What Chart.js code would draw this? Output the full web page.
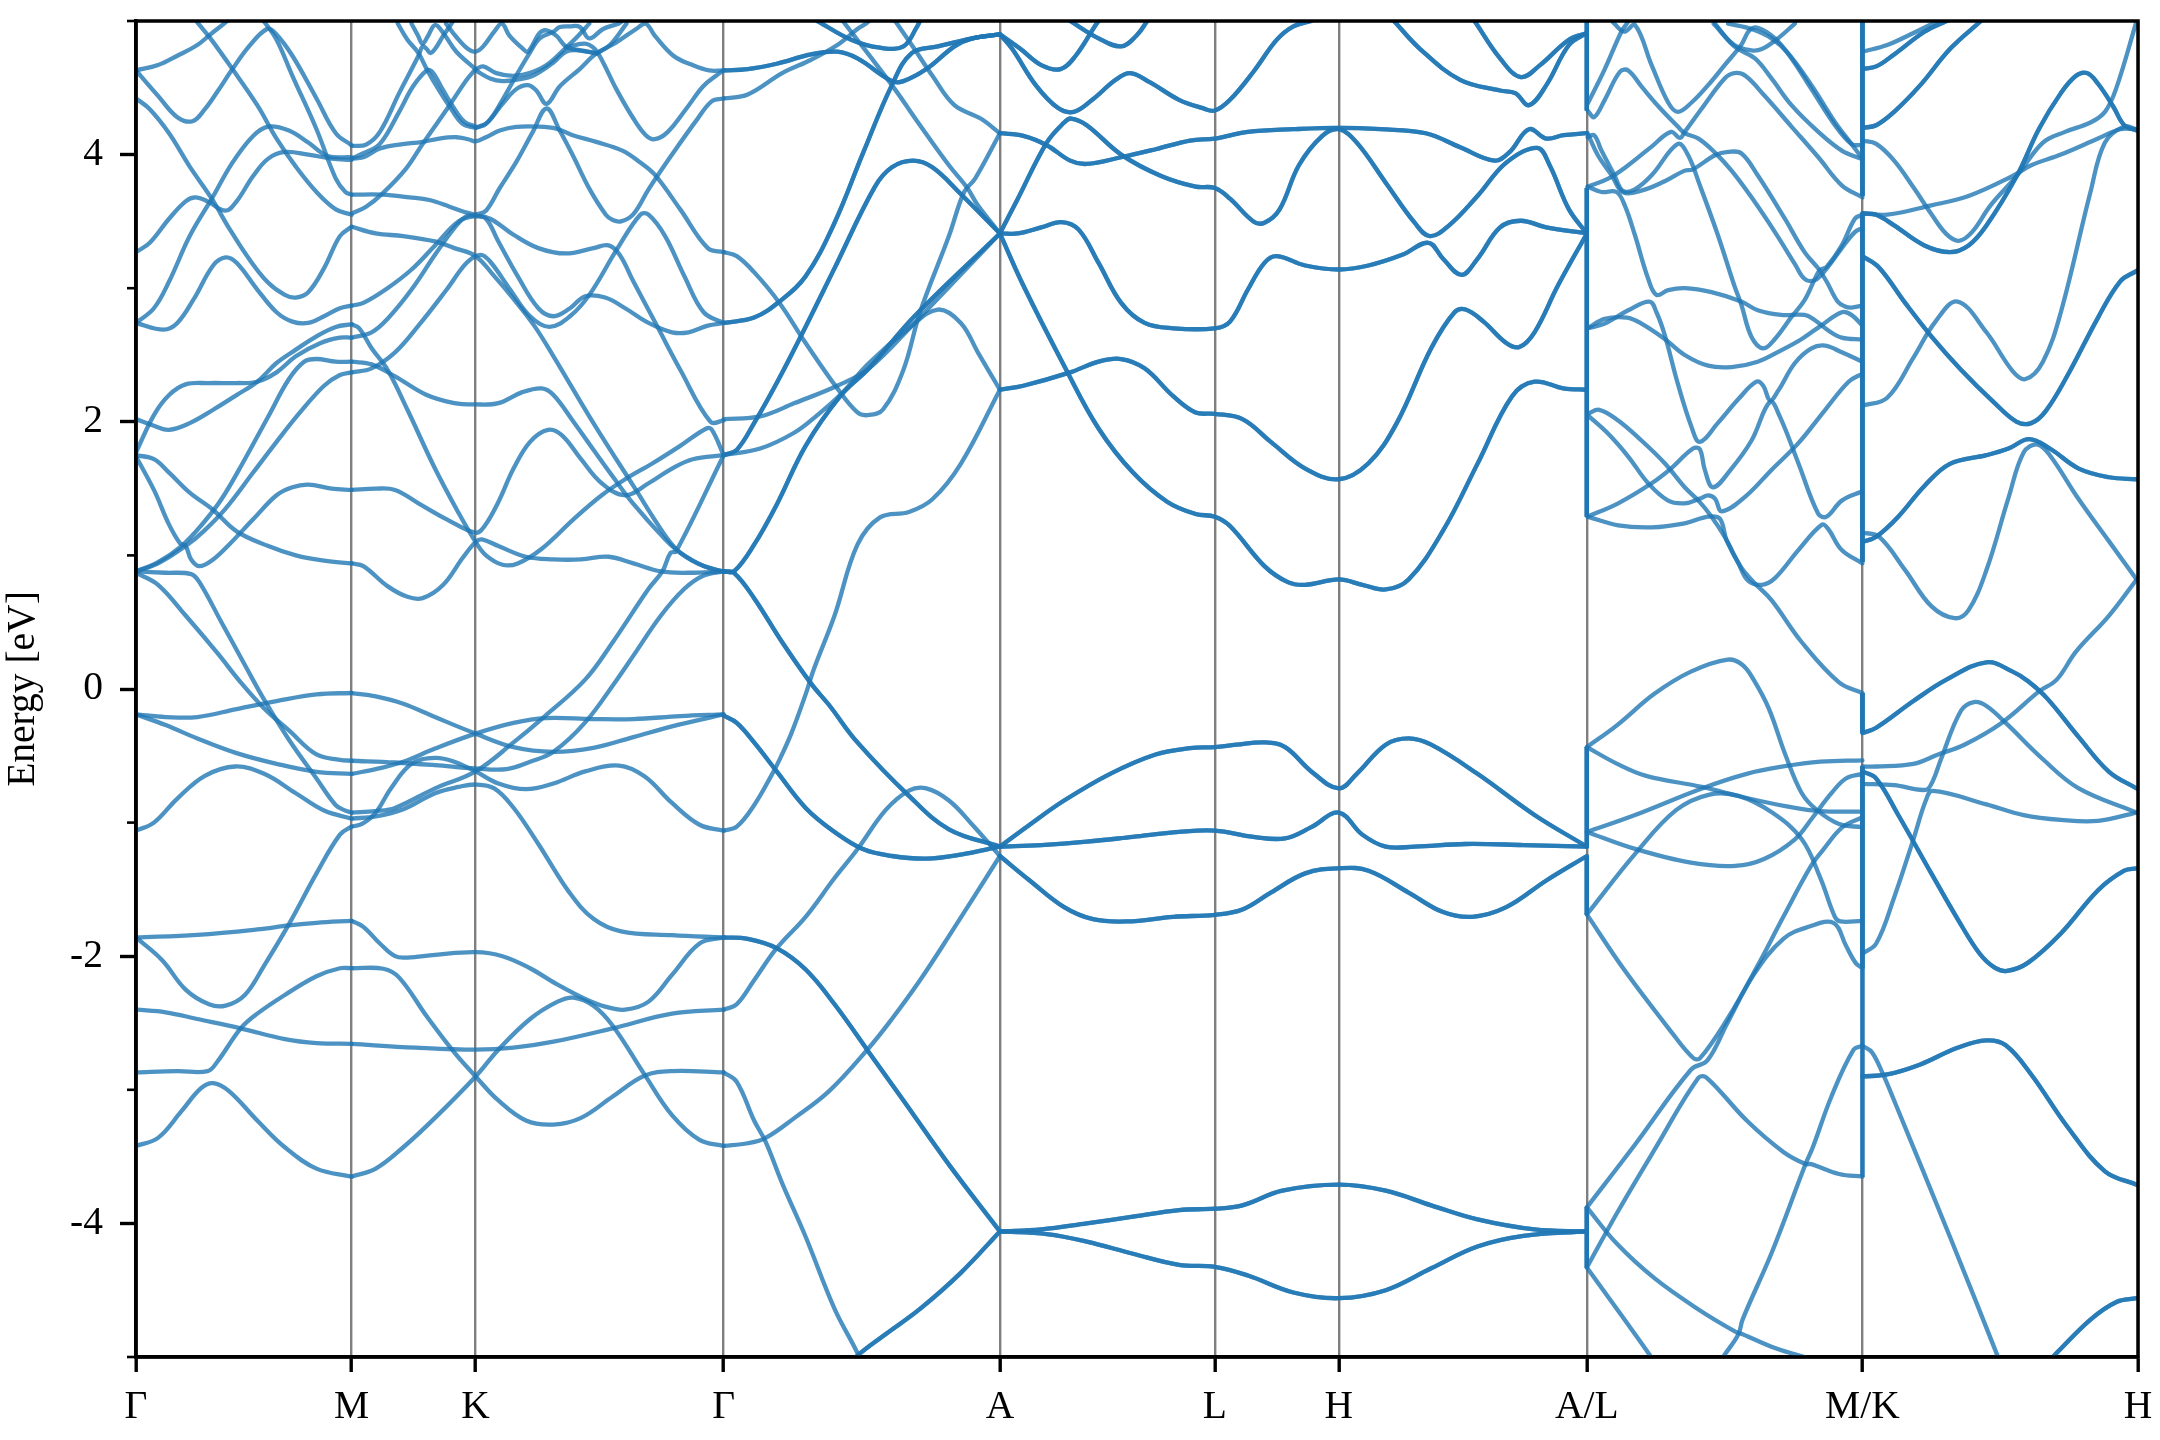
<!DOCTYPE html>
<html>
<head>
<meta charset="utf-8">
<title>Band structure</title>
<script src="https://cdn.jsdelivr.net/npm/chart.js@4"></script>
<style>
  html, body { margin: 0; padding: 0; background: #fff; }
  canvas { display: block; }
</style>
</head>
<body>
<canvas id="bandas" width="2160" height="1440"></canvas>
<script>
const tickPositions = [0, 1.565, 2.465, 4.265, 6.27, 7.83, 8.73, 10.53, 12.53, 14.53];
const tickLabels = ["Γ", "M", "K", "Γ", "A", "L", "H", "A/L", "M/K", "H"];
const energyTicks = [-4, -2, 0, 2, 4];
const minorEnergyTicks = [-5, -3, -1, 1, 3, 5];

// cada banda: x, E, x, E ...
const gammaM = [
  [0,4.63,.16,4.67,.3,4.74,.445,4.82,.54,4.9,.65,4.99,.7,5.04],
  [0,4.63,.16,4.44,.3,4.28,.41,4.25,.5,4.34,.59,4.47,.7,4.64,.82,4.81,.95,4.94,1.01,4.91,1.135,4.74,1.31,4.42,1.45,4.16,1.565,4.07],
  [.445,4.99,.54,4.87,.7,4.64,.88,4.37,1.02,4.12,1.16,3.91,1.31,3.72,1.45,3.59,1.565,3.55],
  [.92,5.01,1.02,4.86,1.135,4.59,1.31,4.19,1.45,3.82,1.52,3.72,1.565,3.7],
  [0,4.42,.1,4.34,.24,4.16,.39,3.91,.55,3.67,.675,3.45,.82,3.22,.96,3.04,1.08,2.95,1.16,2.93,1.25,2.97,1.365,3.15,1.48,3.39,1.565,3.46],
  [0,3.27,.1,3.34,.24,3.52,.36,3.65,.43,3.68,.52,3.65,.65,3.58,.73,3.65,.85,3.84,.96,3.97,1.08,4.02,1.25,4,1.42,3.97,1.565,3.96],
  [0,2.74,.13,2.85,.24,3.05,.39,3.39,.55,3.67,.7,3.94,.85,4.14,.96,4.21,1.11,4.18,1.25,4.09,1.39,3.99,1.565,3.98],
  [0,2.74,.2,2.69,.3,2.74,.42,2.92,.56,3.17,.65,3.23,.73,3.19,.88,2.99,1.02,2.82,1.135,2.75,1.25,2.74,1.365,2.79,1.48,2.85,1.565,2.87],
  [0,1.77,.13,2.05,.24,2.2,.36,2.28,.53,2.29,.73,2.29,.88,2.3,1.02,2.37,1.16,2.49,1.34,2.59,1.48,2.63,1.565,2.63],
  [0,2.02,.13,1.97,.24,1.94,.39,1.99,.56,2.09,.73,2.2,.88,2.3,1.02,2.44,1.16,2.54,1.31,2.64,1.45,2.71,1.565,2.73],
  [0,1.75,.13,1.72,.24,1.62,.39,1.47,.56,1.34,.73,1.18,.96,1.07,1.16,1,1.365,.96,1.565,.94],
  [0,1.74,.13,1.49,.24,1.23,.32,1.09,.36,1.07,.4,.97,.46,.92,.56,.97,.675,1.08,.85,1.27,1.02,1.45,1.135,1.51,1.25,1.53,1.42,1.5,1.565,1.49],
  [0,.88,.16,.95,.33,1.07,.47,1.22,.62,1.42,.79,1.72,.96,2.04,1.11,2.32,1.22,2.45,1.31,2.47,1.45,2.45,1.565,2.45],
  [0,.88,.16,.94,.36,1.07,.49,1.18,.65,1.35,.85,1.62,1.02,1.85,1.19,2.07,1.365,2.27,1.48,2.35,1.565,2.37],
  [0,.88,.215,.87,.4,.86,.46,.8,.62,.5,.79,.18,.93,-.08,1.11,-.38,1.31,-.67,1.45,-.87,1.52,-.91,1.565,-.925],
  [0,.87,.16,.78,.36,.55,.59,.27,.76,.05,.93,-.145,1.11,-.31,1.31,-.49,1.48,-.53,1.565,-.537],
  [0,-.19,.215,-.21,.445,-.21,.73,-.15,1.02,-.09,1.31,-.04,1.565,-.03],
  [0,-.19,.215,-.27,.445,-.37,.73,-.48,1.02,-.56,1.31,-.62,1.565,-.635],
  [0,-1.06,.13,-1,.3,-.82,.5,-.65,.72,-.58,.93,-.635,1.16,-.78,1.365,-.91,1.565,-.97],
  [0,-1.86,.445,-1.84,.88,-1.8,1.11,-1.77,1.31,-1.75,1.565,-1.735],
  [0,-1.86,.19,-2.03,.36,-2.25,.53,-2.36,.65,-2.37,.79,-2.29,.93,-2.07,1.11,-1.76,1.31,-1.38,1.48,-1.09,1.565,-1.03],
  [0,-2.4,.215,-2.42,.445,-2.47,.76,-2.54,1.08,-2.62,1.31,-2.65,1.565,-2.656],
  [0,-2.87,.3,-2.86,.52,-2.86,.59,-2.79,.76,-2.54,.88,-2.43,1.08,-2.29,1.31,-2.15,1.48,-2.09,1.565,-2.09],
  [0,-3.42,.16,-3.36,.33,-3.16,.47,-2.99,.56,-2.95,.675,-3.01,.88,-3.23,1.08,-3.43,1.31,-3.59,1.565,-3.65],
];

const mKGamma = [
  [1.565,4.065,1.67,4.075,1.77,4.17,1.91,4.46,2.05,4.74,2.08,4.81,2.11,4.79,2.136,4.76,2.17,4.79,2.23,4.89,2.29,4.98,2.31,5.02],
  [1.565,3.97,1.65,4.01,1.77,4.08,1.91,4.32,2.01,4.51,2.11,4.63,2.15,4.62,2.23,4.48,2.3,4.36,2.385,4.245,2.465,4.21],
  [1.9,4.98,1.97,4.86,2.05,4.76,2.11,4.64,2.2,4.48,2.276,4.36,2.37,4.23,2.465,4.2],
  [2,4.98,2.047,4.89,2.08,4.83,2.12,4.89,2.17,4.97,2.23,4.91,2.325,4.77,2.465,4.64],
  [2.25,4.98,2.325,4.88,2.41,4.79,2.465,4.77,2.52,4.81,2.6,4.92,2.656,4.98,2.71,4.89,2.81,4.79,2.845,4.77,2.93,4.91,2.98,4.93,3.05,4.89,3.12,4.81,3.22,4.78,3.35,4.76],
  [1.565,3.97,1.65,3.98,1.77,4.045,1.91,4.075,2.08,4.095,2.2,4.12,2.325,4.13,2.41,4.115,2.465,4.1,2.54,4.13,2.64,4.18,2.76,4.207,2.905,4.21,3.05,4.195,3.17,4.145,3.34,4.095,3.53,4.03,3.655,3.945,3.765,3.85,3.95,3.59,4.15,3.3,4.265,3.27],
  [1.565,3.56,1.67,3.61,1.79,3.71,1.96,3.895,2.08,4.08,2.276,4.37,2.4,4.56,2.465,4.64],
  [1.565,3.7,1.79,3.7,1.986,3.68,2.13,3.66,2.276,3.61,2.385,3.57,2.465,3.55],
  [2.465,4.64,2.52,4.66,2.615,4.61,2.736,4.59,2.857,4.61,2.98,4.67,3.12,4.8,3.21,4.89,3.29,4.98],
  [2.465,4.63,2.57,4.57,2.66,4.55,2.76,4.56,2.88,4.59,3.03,4.69,3.12,4.77,3.22,4.78,3.34,4.756],
  [2.465,4.2,2.555,4.245,2.66,4.41,2.77,4.61,2.857,4.76,2.93,4.87,3.03,4.92,3.075,4.955,3.147,4.96,3.22,4.956,3.29,4.87,3.39,4.94,3.5,4.98,3.53,5],
  [2.465,4.2,2.54,4.23,2.66,4.38,2.76,4.49,2.845,4.52,2.905,4.48,2.98,4.38,3.075,4.51,3.22,4.64,3.34,4.756,3.486,4.84,3.63,4.94,3.7,4.98,3.765,4.89,3.9,4.74,4.04,4.67,4.16,4.63,4.265,4.63],
  [3.12,4.8,3.255,4.83,3.33,4.79,3.39,4.69,3.486,4.49,3.61,4.27,3.7,4.145,3.765,4.115,3.86,4.17,3.995,4.345,4.115,4.51,4.21,4.59,4.265,4.63],
  [3.35,4.76,3.44,4.82,3.56,4.98],
  [2.465,3.55,2.54,3.58,2.64,3.75,2.76,3.945,2.88,4.17,2.98,4.345,3.075,4.18,3.17,3.995,3.29,3.745,3.41,3.55,3.46,3.51,3.52,3.5,3.61,3.555,3.72,3.74,3.89,4,4.07,4.26,4.18,4.4,4.265,4.42],
  [1.565,3.46,1.74,3.41,1.94,3.39,2.17,3.35,2.31,3.3,2.465,3.24,2.6,3.09,2.74,2.92,2.89,2.72,3.03,2.49,3.32,1.99,3.61,1.52,3.84,1.15,3.95,1.02,4.12,.92,4.265,.88],
  [1.565,2.87,1.65,2.89,1.825,3,2,3.14,2.17,3.32,2.34,3.5,2.465,3.54,2.57,3.52,2.74,3.4,2.92,3.3,3.12,3.26,3.32,3.3,3.43,3.32,3.51,3.25,3.61,3.05,3.78,2.72,3.95,2.39,4.17,2,4.265,2.01],
  [1.565,2.63,1.71,2.67,1.825,2.77,2,2.99,2.17,3.25,2.31,3.45,2.4,3.54,2.465,3.54,2.54,3.52,2.63,3.35,2.77,3.09,2.92,2.85,3.03,2.79,3.15,2.85,3.26,2.94,3.405,2.93,3.55,2.85,3.72,2.74,3.89,2.67,4.01,2.67,4.15,2.72,4.265,2.74],
  [1.565,2.37,1.71,2.4,1.88,2.52,2.05,2.72,2.255,2.99,2.4,3.19,2.5,3.25,2.57,3.2,2.715,2.99,2.86,2.79,3,2.71,3.15,2.79,3.29,2.95,3.49,3.29,3.66,3.55,3.72,3.55,3.84,3.39,3.98,3.09,4.12,2.82,4.265,2.74],
  [1.565,2.73,1.62,2.7,1.71,2.55,1.825,2.39,1.97,2.09,2.17,1.65,2.34,1.32,2.465,1.1,2.54,1,2.66,.93,2.77,.94,2.945,1.05,3.175,1.27,3.38,1.45,3.55,1.57,3.75,1.69,3.95,1.82,4.14,1.95,4.18,1.94,4.265,1.75],
  [1.565,2.45,1.71,2.43,1.88,2.34,2.11,2.2,2.31,2.14,2.465,2.13,2.63,2.14,2.8,2.22,2.945,2.25,3.03,2.2,3.175,2,3.32,1.79,3.46,1.59,3.61,1.385,3.84,1.12,3.95,1.02,4.12,.92,4.265,.88],
  [1.565,1.49,1.74,1.5,1.88,1.49,2.05,1.39,2.255,1.27,2.465,1.17,2.53,1.22,2.63,1.4,2.74,1.65,2.86,1.85,2.99,1.94,3.09,1.9,3.23,1.72,3.38,1.54,3.55,1.45,3.72,1.54,3.89,1.65,4.04,1.72,4.265,1.75],
  [1.565,.94,1.65,.92,1.825,.77,1.97,.69,2.08,.68,2.23,.78,2.37,.98,2.465,1.1,2.51,1.12,2.63,1.07,2.83,.99,3.03,.97,3.23,.97,3.43,.99,3.61,.94,3.81,.88,4.01,.87,4.265,.88],
  [1.565,-.925,1.74,-.914,1.88,-.89,2.17,-.744,2.465,-.617,2.74,-.4,2.96,-.21,3.26,.07,3.46,.35,3.72,.75,3.82,.88,3.88,1.02,3.92,1.03,4.265,1.75],
  [1.565,-.537,1.88,-.55,2.17,-.57,2.465,-.595,2.69,-.6,2.86,-.545,3.03,-.47,3.26,-.25,3.49,.07,3.61,.25,3.81,.55,3.98,.75,4.12,.85,4.265,.88],
  [1.565,-.635,1.74,-.6,1.94,-.545,2.17,-.446,2.465,-.334,2.74,-.254,2.97,-.218,3.32,-.225,3.61,-.225,3.95,-.203,4.265,-.19],
  [1.565,-.03,1.74,-.055,1.94,-.11,2.17,-.21,2.465,-.334,2.74,-.435,3.03,-.47,3.32,-.44,3.61,-.36,3.89,-.28,4.265,-.19],
  [1.565,-1.03,1.64,-1.01,1.74,-.925,1.85,-.744,2,-.56,2.17,-.515,2.31,-.544,2.465,-.617,2.63,-.707,2.83,-.75,3.03,-.707,3.26,-.617,3.505,-.573,3.69,-.653,3.89,-.853,4.09,-1.016,4.265,-1.06],
  [1.565,-.97,1.74,-.954,1.94,-.9,2.17,-.78,2.34,-.733,2.465,-.715,2.6,-.744,2.74,-.889,2.92,-1.16,3.146,-1.524,3.32,-1.72,3.52,-1.814,3.89,-1.843,4.265,-1.86],
  [1.565,-1.735,1.65,-1.78,1.77,-1.905,1.88,-2,1.97,-2.01,2.17,-1.99,2.465,-1.97,2.66,-2,2.86,-2.09,3.03,-2.195,3.26,-2.32,3.405,-2.377,3.55,-2.4,3.72,-2.34,3.89,-2.14,4.09,-1.905,4.265,-1.86],
  [1.565,-2.09,1.795,-2.094,1.91,-2.16,2.11,-2.45,2.31,-2.72,2.465,-2.9,2.63,-3.08,2.83,-3.23,3.03,-3.26,3.23,-3.21,3.46,-3.05,3.69,-2.895,3.89,-2.86,4.265,-2.87],
  [1.565,-2.656,2.03,-2.685,2.465,-2.7,2.74,-2.685,3.03,-2.64,3.46,-2.54,3.89,-2.43,4.265,-2.4],
  [1.565,-3.65,1.74,-3.59,1.94,-3.43,2.17,-3.21,2.465,-2.9,2.63,-2.7,2.86,-2.47,3.06,-2.34,3.175,-2.31,3.32,-2.37,3.46,-2.52,3.69,-2.885,3.89,-3.19,4.09,-3.375,4.265,-3.42],
];

const gammaALight = [
  [4.265,4.42,4.44,4.45,4.69,4.61,4.9,4.71,5.09,4.82,5.236,4.94,5.32,5,5.38,5.1],
  [5.51,5,5.65,4.79,5.78,4.59,5.94,4.37,6.13,4.27,6.27,4.16],
  [5.13,5,5.486,4.52,5.69,4.22,5.9,3.92,6.03,3.755,6.11,3.62,6.27,3.41],
  [4.265,-1.06,4.36,-1.03,4.486,-.87,4.61,-.65,4.67,-.53,4.757,-.33,4.86,-.04,4.92,.15,5.07,.55,5.236,1.08,5.4,1.285,5.61,1.325,5.78,1.42,5.986,1.685,6.27,2.24],
  [4.265,3.27,4.36,3.24,4.486,3.12,4.67,2.89,4.86,2.59,5.09,2.25,5.236,2.07,5.31,2.05,5.42,2.09,5.57,2.39,5.69,2.82,5.9,3.39,6.01,3.72,6.09,3.82,6.27,4.16],
  [4.265,2.02,4.53,2.04,4.78,2.14,5.09,2.27,5.32,2.4,5.65,2.74,6.27,3.41],
  [4.265,1.75,4.53,1.8,4.78,1.92,4.945,2.05,5.11,2.2,5.32,2.44,5.61,2.7,5.82,2.84,5.986,2.74,6.11,2.52,6.27,2.24],
  [4.265,-2.4,4.36,-2.36,4.486,-2.18,4.65,-1.94,4.86,-1.705,5.07,-1.415,5.236,-1.2,5.44,-.907,5.61,-.76,5.736,-.744,5.9,-.835,6.07,-1.016,6.27,-1.25],
  [4.265,-2.87,4.36,-2.94,4.486,-3.23,4.57,-3.39,4.69,-3.7,4.86,-4.1,5.07,-4.64,5.236,-4.97,5.26,-5.05],
  [4.265,-3.42,4.44,-3.4,4.57,-3.36,4.78,-3.21,5.03,-3.01,5.32,-2.685,5.486,-2.47,5.69,-2.18,5.9,-1.85,6.27,-1.25],
];

// estas aparecem mais escuras, banda dupla
const gammaADouble = [
  [4.265,2.74,4.486,2.78,4.67,2.9,4.86,3.09,5.07,3.49,5.28,4.02,5.486,4.52,5.63,4.76,5.82,4.81,6.07,4.87,6.27,4.9],
  [4.265,4.63,4.44,4.64,4.65,4.68,4.9,4.75,5.09,4.77,5.236,4.72,5.486,4.55,5.57,4.55,5.736,4.64,5.94,4.81,6.07,4.87,6.27,4.9],
  [4.265,1.75,4.36,1.79,4.486,1.99,4.65,2.29,4.84,2.67,5.07,3.15,5.36,3.755,5.486,3.905,5.64,3.955,5.78,3.905,5.986,3.705,6.27,3.41],
  [4.265,.88,4.34,.88,4.486,1.08,4.65,1.38,4.86,1.82,5.11,2.19,5.32,2.4,5.65,2.79,6.27,3.41],
  [4.265,.88,4.34,.87,4.486,.68,4.69,.35,4.9,.04,5.03,-.12,5.236,-.4,5.61,-.8,5.9,-1.05,6.27,-1.18],
  [4.945,5,5.19,4.86,5.4,4.8,5.57,4.81,5.67,4.96,5.69,5],
  [4.265,-.2,4.36,-.254,4.486,-.4,4.65,-.617,4.86,-.89,5.07,-1.07,5.28,-1.2,5.486,-1.25,5.736,-1.27,5.986,-1.24,6.27,-1.18],
  [4.265,-1.86,4.44,-1.87,4.65,-1.94,4.86,-2.1,5.07,-2.36,5.32,-2.72,5.57,-3.08,5.9,-3.56,6.27,-4.06],
  [5.2,-5.05,5.236,-4.99,5.44,-4.83,5.69,-4.64,5.986,-4.37,6.27,-4.06],
];

const aLHA = [
  [6.27,4.9,6.42,4.79,6.57,4.67,6.71,4.64,6.82,4.74,6.965,4.97,7,5.02],
  [6.78,5,6.986,4.87,7.15,4.81,7.26,4.89,7.34,5],
  [6.27,4.9,6.36,4.79,6.53,4.52,6.69,4.35,6.807,4.32,6.94,4.41,7.11,4.56,7.215,4.61,7.36,4.54,7.57,4.41,7.736,4.35,7.83,4.33,7.94,4.41,8.11,4.62,8.28,4.86,8.4,4.96,8.53,5],
  [9.13,5,9.32,4.79,9.61,4.56,9.9,4.48,10.01,4.46,10.11,4.37,10.236,4.52,10.4,4.82,10.53,4.91],
  [9.715,5,9.9,4.72,10.05,4.58,10.19,4.67,10.4,4.86,10.53,4.91],
  [6.27,4.16,6.44,4.14,6.61,4.07,6.78,3.955,6.9,3.93,7.15,3.98,7.4,4.04,7.65,4.105,7.83,4.12,8.07,4.17,8.4,4.19,8.73,4.2,9.03,4.19,9.36,4.16,9.61,4.055,9.86,3.955,9.97,4.02,10.11,4.19,10.236,4.12,10.36,4.145,10.53,4.16],
  [6.27,3.41,6.4,3.41,6.57,3.455,6.715,3.495,6.84,3.44,6.986,3.19,7.15,2.89,7.32,2.74,7.53,2.7,7.83,2.7,7.94,2.75,8.07,2.99,8.19,3.19,8.28,3.24,8.486,3.17,8.73,3.14,8.945,3.17,9.19,3.25,9.38,3.34,9.486,3.22,9.62,3.1,9.736,3.22,9.9,3.455,10.05,3.505,10.236,3.455,10.53,3.41],
  [6.27,3.41,6.4,3.67,6.61,4.09,6.736,4.24,6.786,4.27,6.9,4.22,7.15,4,7.44,3.84,7.69,3.76,7.83,3.75,7.94,3.67,8.11,3.5,8.19,3.49,8.3,3.59,8.44,3.92,8.61,4.14,8.73,4.19,8.86,4.09,9.07,3.79,9.28,3.49,9.39,3.39,9.53,3.47,9.736,3.69,9.945,3.94,10.17,4.05,10.26,3.92,10.4,3.59,10.53,3.41],
  [6.27,3.41,6.44,3.02,6.736,2.42,6.986,1.95,7.236,1.62,7.486,1.4,7.69,1.31,7.83,1.29,7.94,1.22,8.19,.92,8.36,.8,8.486,.78,8.73,.82,8.9,.78,9.07,.745,9.236,.82,9.486,1.185,9.736,1.685,9.986,2.19,10.15,2.3,10.36,2.25,10.53,2.24],
  [6.27,2.24,6.44,2.27,6.78,2.37,6.986,2.45,7.15,2.47,7.32,2.4,7.53,2.19,7.69,2.07,7.83,2.06,8.03,2.02,8.236,1.85,8.486,1.65,8.73,1.57,8.945,1.69,9.15,1.99,9.4,2.55,9.57,2.82,9.65,2.84,9.78,2.75,9.945,2.59,10.04,2.56,10.15,2.67,10.32,3.02,10.53,3.41],
  [6.27,-1.18,6.486,-1.016,6.736,-.835,7.07,-.635,7.4,-.49,7.65,-.443,7.83,-.435,7.986,-.417,8.19,-.4,8.34,-.435,8.53,-.617,8.73,-.744,8.86,-.635,9.07,-.417,9.236,-.37,9.4,-.417,9.736,-.635,10.15,-.943,10.53,-1.18],
  [6.27,-1.18,6.57,-1.168,6.9,-1.143,7.236,-1.107,7.57,-1.07,7.83,-1.06,8.11,-1.107,8.34,-1.118,8.53,-1.034,8.73,-.925,8.9,-1.09,9.07,-1.18,9.28,-1.18,9.65,-1.16,10.07,-1.168,10.53,-1.18],
  [6.27,-1.25,6.486,-1.433,6.736,-1.633,6.945,-1.723,7.19,-1.74,7.53,-1.705,7.83,-1.69,8.03,-1.65,8.236,-1.524,8.486,-1.38,8.73,-1.342,8.945,-1.36,9.236,-1.524,9.486,-1.67,9.7,-1.705,9.945,-1.633,10.236,-1.433,10.53,-1.25],
  [6.27,-4.06,6.57,-4.045,6.9,-4,7.236,-3.95,7.57,-3.9,7.83,-3.89,8.03,-3.865,8.32,-3.755,8.73,-3.71,9.07,-3.755,9.4,-3.865,9.736,-3.97,10.15,-4.045,10.53,-4.06],
  [6.27,-4.06,6.61,-4.08,6.9,-4.136,7.236,-4.227,7.57,-4.31,7.83,-4.325,8.07,-4.39,8.4,-4.517,8.73,-4.56,9.07,-4.5,9.4,-4.336,9.736,-4.173,10.07,-4.093,10.53,-4.06],
];

const lM = [
  [10.535,4.38,10.66,4.64,10.78,4.92,10.82,4.98,10.86,5.05],
  [10.535,4.33,10.583,4.28,10.66,4.41,10.77,4.62,10.83,4.63,10.926,4.51,11.05,4.36,11.19,4.21,11.24,4.16,11.34,4.12,11.46,4.015,11.58,3.88,11.725,3.68,11.895,3.42,12.04,3.18,12.11,3.07,12.185,3.06,12.28,3.16,12.38,3.3,12.475,3.42,12.53,3.45],
  [10.72,4.99,10.8,4.92,10.88,4.97,11,4.67,11.12,4.39,11.19,4.32,11.29,4.39,11.41,4.52,11.53,4.67,11.65,4.82,11.71,4.93,11.77,4.95,11.895,4.87,12.015,4.72,12.16,4.49,12.33,4.22,12.45,4.08,12.53,4.07],
  [10.535,3.76,10.685,3.82,10.83,3.92,11,4.06,11.14,4.17,11.205,4.125,11.24,4.17,11.36,4.34,11.53,4.57,11.6,4.61,11.68,4.59,11.82,4.44,12.015,4.21,12.21,3.98,12.38,3.77,12.53,3.68],
  [11.46,4.98,11.6,4.81,11.75,4.72,11.87,4.57,12.015,4.37,12.21,4.17,12.38,4.03,12.53,3.965],
  [11.555,4.98,11.725,4.94,11.87,4.87,11.99,4.76,12.16,4.52,12.33,4.245,12.45,4.08,12.53,3.97],
  [11.45,4.98,11.6,4.82,11.725,4.78,11.8,4.79,11.905,4.86,12.04,4.98],
  [10.535,4.13,10.583,4.145,10.636,4.03,10.73,3.845,10.79,3.73,10.878,3.74,11,3.845,11.19,4.08,11.265,3.995,11.35,3.77,11.48,3.4,11.6,3.02,11.65,2.88,11.725,2.635,11.81,2.55,11.895,2.62,12.015,2.785,12.11,2.91,12.185,3.07,12.22,3.135,12.27,3.16,12.38,3.32,12.475,3.52,12.53,3.55],
  [10.535,4.16,10.61,3.995,10.71,3.845,10.79,3.72,10.926,3.73,11.095,3.8,11.24,3.88,11.3,3.89,11.46,3.995,11.555,4.02,11.65,4.01,11.77,3.845,11.967,3.52,12.11,3.27,12.21,3.147,12.27,3.05,12.35,2.9,12.4,2.865,12.45,2.855,12.53,2.87],
  [10.535,3.76,10.636,3.72,10.745,3.72,10.805,3.62,10.878,3.4,10.975,3.07,11.035,2.95,11.12,2.985,11.24,3,11.435,2.97,11.65,2.9,11.77,2.835,11.94,2.8,12.11,2.8,12.185,2.76,12.28,2.685,12.38,2.63,12.53,2.615],
  [10.535,2.7,10.66,2.735,10.83,2.835,10.985,2.9,11.035,2.82,11.095,2.65,11.19,2.285,11.29,1.96,11.35,1.85,11.48,1.99,11.63,2.17,11.76,2.3,11.81,2.27,11.86,2.16,11.92,2.235,12.04,2.44,12.16,2.55,12.26,2.57,12.38,2.52,12.53,2.45],
  [10.535,2.7,10.66,2.77,10.82,2.78,10.926,2.735,11.095,2.62,11.24,2.5,11.41,2.42,11.58,2.41,11.77,2.45,11.94,2.535,12.09,2.62,12.23,2.72,12.38,2.82,12.45,2.8,12.53,2.72],
  [10.535,2.06,10.62,2.09,10.757,2.01,10.926,1.86,11.095,1.69,11.24,1.51,11.34,1.41,11.435,1.29,11.53,1.14,11.63,.94,11.7,.81,11.8,.78,11.895,.83,12.065,1.04,12.235,1.23,12.28,1.2,12.38,1.04,12.53,.94],
  [10.535,2.05,10.685,1.91,10.83,1.74,10.975,1.54,11.12,1.41,11.24,1.39,11.35,1.425,11.41,1.45,11.46,1.425,11.51,1.33,11.68,1.44,11.87,1.64,12.065,1.84,12.26,2.09,12.43,2.3,12.53,2.36],
  [10.535,1.29,10.757,1.39,11,1.54,11.14,1.65,11.3,1.8,11.35,1.795,11.386,1.64,11.446,1.51,11.58,1.65,11.725,1.86,11.86,2.15,11.93,2.04,12.065,1.69,12.21,1.31,12.27,1.29,12.38,1.41,12.53,1.48],
  [10.535,1.29,10.757,1.225,11,1.21,11.24,1.24,11.41,1.29,11.495,1.275,11.545,1.11,11.65,.91,11.75,.79,11.87,.665,12.09,.35,12.36,.05,12.53,-.03],
  [10.53,-.435,10.75,-.27,11.02,-.036,11.285,.13,11.553,.22,11.66,.18,11.74,.07,11.85,-.145,11.97,-.49,12.09,-.78,12.2,-.907,12.36,-1.01,12.53,-1.035],
  [10.53,-.435,10.75,-.56,10.96,-.65,11.365,-.733,11.69,-.816,11.98,-.878,12.225,-.914,12.53,-.918],
  [10.53,-1.07,10.88,-.943,11.365,-.744,11.69,-.635,11.956,-.58,12.225,-.544,12.53,-.534],
  [10.53,-1.07,10.88,-1.197,11.285,-1.3,11.607,-1.324,11.82,-1.27,12.04,-1.125,12.17,-.96,12.305,-.78,12.41,-.67,12.53,-.635],
  [10.53,-1.687,10.88,-1.234,11.177,-.907,11.42,-.79,11.63,-.8,11.875,-.925,12.09,-1.125,12.225,-1.415,12.33,-1.705,12.37,-1.74,12.53,-1.735],
  [11.525,-4.99,11.63,-4.83,11.66,-4.72,11.875,-4.21,12.117,-3.556,12.17,-3.43,12.305,-3.05,12.466,-2.7,12.53,-2.67],
  [10.53,-3.88,10.75,-4.155,11.02,-4.41,11.34,-4.644,11.607,-4.81,11.66,-4.83,11.9,-4.935,12.14,-5.01],
  [10.53,-4.33,10.99,-4.99,11.02,-5.05],
  [10.53,-3.88,10.88,-3.41,11.285,-2.85,11.405,-2.78,11.55,-2.5,11.74,-2.14,11.956,-1.87,12.14,-1.78,12.32,-1.75,12.41,-1.92,12.48,-2.05,12.53,-2.09],
  [10.53,-4.33,10.75,-3.92,11.02,-3.45,11.34,-2.91,11.4,-2.91,11.69,-3.23,11.956,-3.465,12.117,-3.556,12.157,-3.556,12.36,-3.63,12.53,-3.65],
  [10.53,-1.687,10.8,-2.1,11.15,-2.576,11.3,-2.76,11.35,-2.765,11.55,-2.47,11.77,-2.07,11.956,-1.705,12.157,-1.324,12.25,-1.197,12.385,-1.034,12.53,-.96],
];

const kHLight = [
  [12.53,4.77,12.71,4.82,12.9,4.91,13.08,5,13.2,5.05],
  [12.53,4.105,12.63,4.08,12.76,3.955,12.9,3.755,13.03,3.555,13.14,3.405,13.23,3.355,13.325,3.42,13.46,3.62,13.65,3.84,13.84,4.09,14,4.17,14.185,4.24,14.29,4.32,14.37,4.49,14.52,5],
  [12.53,3.56,12.71,3.55,13.03,3.62,13.3,3.69,13.62,3.84,13.755,3.92,13.97,4,14.24,4.12,14.4,4.19,14.52,4.19],
  [12.53,2.12,12.71,2.18,12.9,2.48,13.06,2.75,13.22,2.9,13.43,2.67,13.62,2.38,13.715,2.32,13.84,2.45,13.97,2.82,14.185,3.72,14.29,4.09,14.43,4.21,14.52,4.19],
  [12.53,1.17,12.65,1.14,12.84,.89,13.03,.62,13.2,.53,13.3,.59,13.43,.89,13.59,1.43,13.7,1.77,13.8,1.83,13.89,1.75,14.1,1.42,14.32,1.105,14.52,.82],
  [12.53,-.58,12.63,-.58,12.9,-.56,13.08,-.49,13.27,-.417,13.54,-.254,13.81,-.02,13.94,.07,14.08,.28,14.32,.55,14.52,.82],
  [12.53,-.71,12.76,-.72,12.99,-.755,13.04,-.69,13.1,-.526,13.245,-.163,13.34,-.098,13.43,-.127,13.57,-.254,13.84,-.526,14.1,-.744,14.52,-.925],
  [12.53,-1.98,12.63,-1.905,12.76,-1.56,12.9,-1.125,12.99,-.835,13.04,-.762,13.43,-.864,13.7,-.944,13.97,-.98,14.24,-.987,14.52,-.925],
  [12.53,-2.67,12.6,-2.72,12.68,-2.885,12.76,-3.08,13.165,-4.1,13.51,-4.99,13.53,-5.05],
];

const kHDouble = [
  [12.53,4.64,12.63,4.66,12.76,4.75,12.98,4.92,13.14,5,13.25,5.05],
  [12.53,4.2,12.63,4.22,12.76,4.32,12.95,4.52,13.165,4.79,13.39,5],
  [12.53,3.56,12.63,3.55,12.76,3.47,12.98,3.32,13.165,3.27,13.3,3.32,13.43,3.47,13.65,3.84,13.81,4.19,13.97,4.46,14.08,4.59,14.16,4.61,14.24,4.53,14.35,4.36,14.43,4.22,14.52,4.18],
  [12.53,3.24,12.65,3.155,12.84,2.89,13.03,2.64,13.245,2.39,13.49,2.14,13.65,2,13.755,1.99,13.86,2.08,14.02,2.35,14.24,2.78,14.4,3.05,14.52,3.13],
  [12.53,1.1,12.63,1.14,12.79,1.29,12.98,1.52,13.165,1.685,13.43,1.75,13.59,1.8,13.74,1.87,13.89,1.8,14.1,1.65,14.32,1.585,14.52,1.57],
  [12.53,-.33,12.63,-.29,12.9,-.09,13.14,.07,13.43,.2,13.62,.13,13.73,.06,13.87,-.07,14.1,-.36,14.32,-.62,14.52,-.745],
  [12.53,-.617,12.63,-.67,12.79,-.943,13.03,-1.38,13.22,-1.72,13.38,-1.98,13.49,-2.086,13.58,-2.11,13.73,-2.05,13.97,-1.83,14.24,-1.506,14.43,-1.36,14.52,-1.343],
  [12.53,-2.9,12.71,-2.885,12.95,-2.81,13.22,-2.685,13.43,-2.63,13.57,-2.667,13.755,-2.885,14.02,-3.28,14.29,-3.61,14.52,-3.71],
  [13.92,-4.99,14.185,-4.72,14.37,-4.59,14.52,-4.56],
];

// saltos verticais nos pontos A/L e M/K: x, E, x, E
const jumps = [
  [10.53,5.1,10.53,4.33],
  [10.53,3.75,10.53,1.29],
  [10.53,-.435,10.53,-1.18],
  [10.53,-1.25,10.53,-1.69],
  [10.53,-3.88,10.53,-4.33],
  [12.53,5.1,12.53,3.69],
  [12.53,3.55,12.53,.95],
  [12.53,-.03,12.53,-.33],
  [12.53,-.58,12.53,-2.09],
];
const lightJumps = [[12.53,-2.09,12.53,-3.65]];

const corBanda = "rgba(31, 119, 180, 0.8)";
const larguraBanda = 4.3;

function paraPontos(banda) {
  const pontos = [];
  for (let i = 0; i < banda.length; i += 2) {
    pontos.push({ x: banda[i], y: banda[i + 1] });
  }
  return pontos;
}

function curva(banda) {
  return {
    data: paraPontos(banda),
    borderColor: corBanda,
    borderWidth: larguraBanda,
    pointRadius: 0,
    tension: 0.38,
    borderCapStyle: "round",
    borderJoinStyle: "round",
  };
}

function reta(banda) {
  return {
    data: paraPontos(banda),
    borderColor: corBanda,
    borderWidth: larguraBanda,
    pointRadius: 0,
    tension: 0,
  };
}

const conjuntos = [];
[gammaM, mKGamma, gammaALight, lM, kHLight].forEach((grupo) => {
  grupo.forEach((b) => conjuntos.push(curva(b)));
});
[gammaADouble, aLHA, kHDouble].forEach((grupo) => {
  grupo.forEach((b) => {
    conjuntos.push(curva(b));
    conjuntos.push(curva(b));
  });
});
jumps.forEach((b) => {
  conjuntos.push(reta(b));
  conjuntos.push(reta(b));
  conjuntos.push(reta(b));
  conjuntos.push(reta(b));
});
lightJumps.forEach((b) => {
  conjuntos.push(reta(b));
  conjuntos.push(reta(b));
});

// moldura e marcas menores do eixo y
const moldura = {
  id: "moldura",
  afterDraw(chart) {
    const { ctx, chartArea, scales } = chart;
    ctx.save();
    ctx.strokeStyle = "#000";
    ctx.lineWidth = 3.5;
    ctx.strokeRect(
      chartArea.left,
      chartArea.top,
      chartArea.right - chartArea.left,
      chartArea.bottom - chartArea.top
    );
    ctx.lineWidth = 2.6;
    minorEnergyTicks.forEach((v) => {
      const y = scales.y.getPixelForValue(v);
      ctx.beginPath();
      ctx.moveTo(chartArea.left - 9, y);
      ctx.lineTo(chartArea.left, y);
      ctx.stroke();
    });
    ctx.restore();
  },
};

const fonte = { family: "'Liberation Serif', serif", size: 39.5 };

new Chart(document.getElementById("bandas").getContext("2d"), {
  type: "line",
  data: { datasets: conjuntos },
  plugins: [moldura],
  options: {
    responsive: false,
    animation: false,
    parsing: false,
    normalized: true,
    layout: { padding: { top: 21, right: 22, left: 0, bottom: 0 } },
    plugins: { legend: { display: false }, tooltip: { enabled: false } },
    scales: {
      x: {
        type: "linear",
        min: 0,
        max: 14.53,
        afterBuildTicks(axis) {
          axis.ticks = tickPositions.map((value) => ({ value }));
        },
        afterFit(scale) {
          scale.height = 83;
          scale.paddingLeft = 0;
          scale.paddingRight = 0;
        },
        ticks: {
          autoSkip: false,
          maxRotation: 0,
          color: "#000",
          font: fonte,
          padding: 12,
          callback: (v, i) => tickLabels[i],
        },
        grid: {
          color: "rgba(0, 0, 0, 0.5)",
          lineWidth: 2.4,
          tickColor: "#000",
          tickWidth: 3.4,
          tickLength: 15,
        },
        border: { color: "#000", width: 3.5 },
      },
      y: {
        type: "linear",
        min: -5,
        max: 5,
        afterBuildTicks(axis) {
          axis.ticks = energyTicks.map((value) => ({ value }));
        },
        afterFit(scale) {
          scale.width = 136;
          scale.paddingTop = 0;
          scale.paddingBottom = 0;
        },
        title: {
          display: true,
          text: "Energy [eV]",
          color: "#000",
          font: fonte,
          padding: 0,
        },
        ticks: {
          color: "#000",
          font: fonte,
          padding: 17,
          callback: (v) => String(v),
        },
        grid: {
          drawOnChartArea: false,
          tickColor: "#000",
          tickWidth: 3.4,
          tickLength: 16,
        },
        border: { color: "#000", width: 3.5 },
      },
    },
  },
});
</script>
</body>
</html>
